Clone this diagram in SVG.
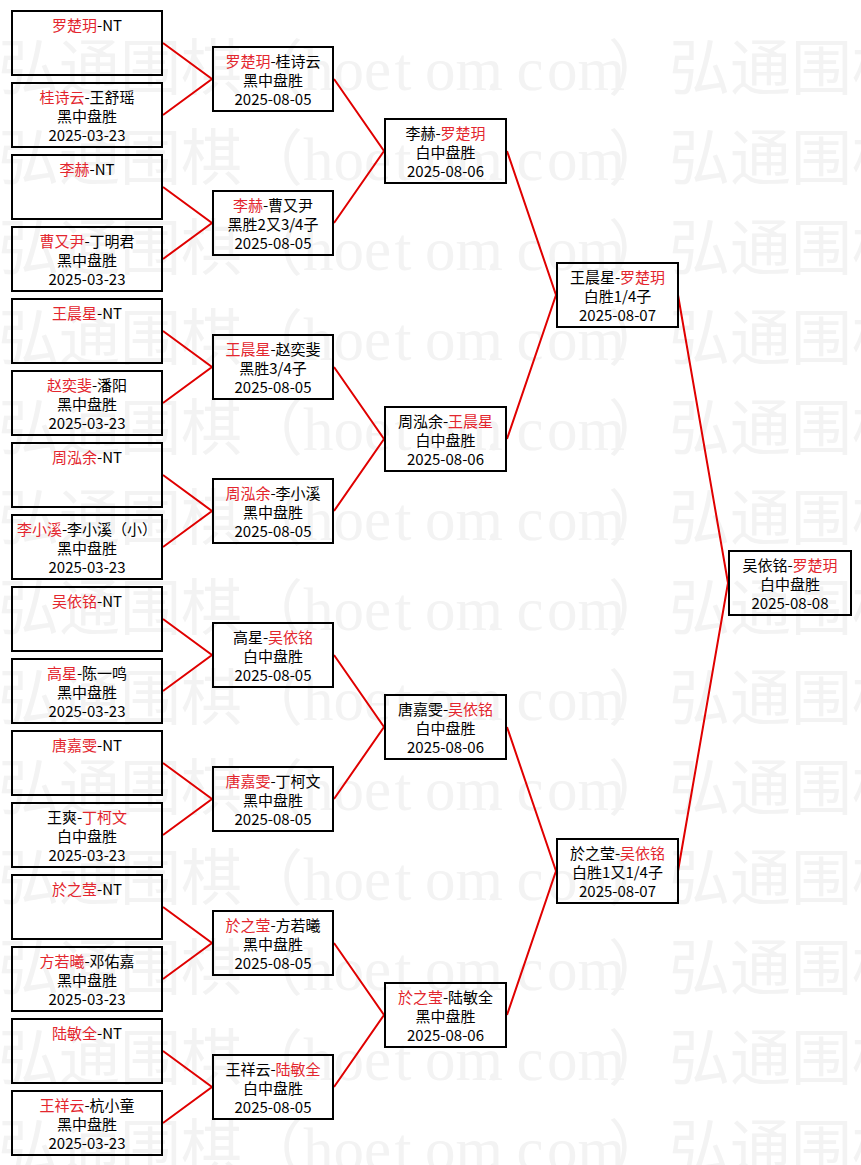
<svg xmlns="http://www.w3.org/2000/svg" xmlns:xlink="http://www.w3.org/1999/xlink" width="861" height="1165" viewBox="0 0 861 1165">
<style>
.bg{fill:#ffffff}
.wm{font-family:"Liberation Serif","Noto Sans CJK SC",serif;font-size:61px;fill:#f3f3f3}
.b{fill:none;stroke:#000;stroke-width:2}
.t{font-family:"Noto Sans CJK SC",sans-serif;font-size:15px;text-anchor:middle;fill:#000}
.r{fill:#e3262e}
.c{fill:none;stroke:#e00000;stroke-width:2}
</style>
<defs>
<text id="wm" class="wm" x="-2 59 120 181 242 303 333.5 364 394.5 425 455.5 486 516.5 547 577.5 608 669 730 791 852" y="0">弘通围棋（hoetom.com）弘通围棋</text>
</defs>
<rect class="bg" x="0" y="0" width="861" height="1165"/>
<g id="watermark">
<use xlink:href="#wm" y="90"/>
<use xlink:href="#wm" y="180"/>
<use xlink:href="#wm" y="270"/>
<use xlink:href="#wm" y="360"/>
<use xlink:href="#wm" y="450"/>
<use xlink:href="#wm" y="540"/>
<use xlink:href="#wm" y="630"/>
<use xlink:href="#wm" y="720"/>
<use xlink:href="#wm" y="810"/>
<use xlink:href="#wm" y="900"/>
<use xlink:href="#wm" y="990"/>
<use xlink:href="#wm" y="1080"/>
<use xlink:href="#wm" y="1170"/>
</g>
<g id="connectors">
<polyline class="c" points="163,43 212,79 163,115"/>
<polyline class="c" points="163,187 212,223 163,259"/>
<polyline class="c" points="163,331 212,367 163,403"/>
<polyline class="c" points="163,475 212,511 163,547"/>
<polyline class="c" points="163,619 212,655 163,691"/>
<polyline class="c" points="163,763 212,799 163,835"/>
<polyline class="c" points="163,907 212,943 163,979"/>
<polyline class="c" points="163,1051 212,1087 163,1123"/>
<polyline class="c" points="334,79 384,151 334,223"/>
<polyline class="c" points="334,367 384,439 334,511"/>
<polyline class="c" points="334,655 384,727 334,799"/>
<polyline class="c" points="334,943 384,1015 334,1087"/>
<polyline class="c" points="507,151 556,295 507,439"/>
<polyline class="c" points="507,727 556,871 507,1015"/>
<polyline class="c" points="678,295 728,583 678,871"/>
</g>
<!-- Round 1 -->
<g id="r1-1"><rect class="b" x="12" y="11" width="150" height="64"/><text class="t" x="87" y="31"><tspan class="r">罗楚玥</tspan>-NT</text></g>
<g id="r1-2"><rect class="b" x="12" y="83" width="150" height="64"/><text class="t" x="87" y="103"><tspan class="r">桂诗云</tspan>-王舒瑶</text><text class="t" x="87" y="122">黑中盘胜</text><text class="t" x="87" y="141">2025-03-23</text></g>
<g id="r1-3"><rect class="b" x="12" y="155" width="150" height="64"/><text class="t" x="87" y="175"><tspan class="r">李赫</tspan>-NT</text></g>
<g id="r1-4"><rect class="b" x="12" y="227" width="150" height="64"/><text class="t" x="87" y="247"><tspan class="r">曹又尹</tspan>-丁明君</text><text class="t" x="87" y="266">黑中盘胜</text><text class="t" x="87" y="285">2025-03-23</text></g>
<g id="r1-5"><rect class="b" x="12" y="299" width="150" height="64"/><text class="t" x="87" y="319"><tspan class="r">王晨星</tspan>-NT</text></g>
<g id="r1-6"><rect class="b" x="12" y="371" width="150" height="64"/><text class="t" x="87" y="391"><tspan class="r">赵奕斐</tspan>-潘阳</text><text class="t" x="87" y="410">黑中盘胜</text><text class="t" x="87" y="429">2025-03-23</text></g>
<g id="r1-7"><rect class="b" x="12" y="443" width="150" height="64"/><text class="t" x="87" y="463"><tspan class="r">周泓余</tspan>-NT</text></g>
<g id="r1-8"><rect class="b" x="12" y="515" width="150" height="64"/><text class="t" x="87" y="535"><tspan class="r">李小溪</tspan>-李小溪（小）</text><text class="t" x="87" y="554">黑中盘胜</text><text class="t" x="87" y="573">2025-03-23</text></g>
<g id="r1-9"><rect class="b" x="12" y="587" width="150" height="64"/><text class="t" x="87" y="607"><tspan class="r">吴依铭</tspan>-NT</text></g>
<g id="r1-10"><rect class="b" x="12" y="659" width="150" height="64"/><text class="t" x="87" y="679"><tspan class="r">高星</tspan>-陈一鸣</text><text class="t" x="87" y="698">黑中盘胜</text><text class="t" x="87" y="717">2025-03-23</text></g>
<g id="r1-11"><rect class="b" x="12" y="731" width="150" height="64"/><text class="t" x="87" y="751"><tspan class="r">唐嘉雯</tspan>-NT</text></g>
<g id="r1-12"><rect class="b" x="12" y="803" width="150" height="64"/><text class="t" x="87" y="823">王爽-<tspan class="r">丁柯文</tspan></text><text class="t" x="87" y="842">白中盘胜</text><text class="t" x="87" y="861">2025-03-23</text></g>
<g id="r1-13"><rect class="b" x="12" y="875" width="150" height="64"/><text class="t" x="87" y="895"><tspan class="r">於之莹</tspan>-NT</text></g>
<g id="r1-14"><rect class="b" x="12" y="947" width="150" height="64"/><text class="t" x="87" y="967"><tspan class="r">方若曦</tspan>-邓佑嘉</text><text class="t" x="87" y="986">黑中盘胜</text><text class="t" x="87" y="1005">2025-03-23</text></g>
<g id="r1-15"><rect class="b" x="12" y="1019" width="150" height="64"/><text class="t" x="87" y="1039"><tspan class="r">陆敏全</tspan>-NT</text></g>
<g id="r1-16"><rect class="b" x="12" y="1091" width="150" height="64"/><text class="t" x="87" y="1111"><tspan class="r">王祥云</tspan>-杭小童</text><text class="t" x="87" y="1130">黑中盘胜</text><text class="t" x="87" y="1149">2025-03-23</text></g>
<!-- Round 2 -->
<g id="r2-1"><rect class="b" x="213" y="47" width="120" height="64"/><text class="t" x="273" y="67"><tspan class="r">罗楚玥</tspan>-桂诗云</text><text class="t" x="273" y="86">黑中盘胜</text><text class="t" x="273" y="105">2025-08-05</text></g>
<g id="r2-2"><rect class="b" x="213" y="191" width="120" height="64"/><text class="t" x="273" y="211"><tspan class="r">李赫</tspan>-曹又尹</text><text class="t" x="273" y="230">黑胜2又3/4子</text><text class="t" x="273" y="249">2025-08-05</text></g>
<g id="r2-3"><rect class="b" x="213" y="335" width="120" height="64"/><text class="t" x="273" y="355"><tspan class="r">王晨星</tspan>-赵奕斐</text><text class="t" x="273" y="374">黑胜3/4子</text><text class="t" x="273" y="393">2025-08-05</text></g>
<g id="r2-4"><rect class="b" x="213" y="479" width="120" height="64"/><text class="t" x="273" y="499"><tspan class="r">周泓余</tspan>-李小溪</text><text class="t" x="273" y="518">黑中盘胜</text><text class="t" x="273" y="537">2025-08-05</text></g>
<g id="r2-5"><rect class="b" x="213" y="623" width="120" height="64"/><text class="t" x="273" y="643">高星-<tspan class="r">吴依铭</tspan></text><text class="t" x="273" y="662">白中盘胜</text><text class="t" x="273" y="681">2025-08-05</text></g>
<g id="r2-6"><rect class="b" x="213" y="767" width="120" height="64"/><text class="t" x="273" y="787"><tspan class="r">唐嘉雯</tspan>-丁柯文</text><text class="t" x="273" y="806">黑中盘胜</text><text class="t" x="273" y="825">2025-08-05</text></g>
<g id="r2-7"><rect class="b" x="213" y="911" width="120" height="64"/><text class="t" x="273" y="931"><tspan class="r">於之莹</tspan>-方若曦</text><text class="t" x="273" y="950">黑中盘胜</text><text class="t" x="273" y="969">2025-08-05</text></g>
<g id="r2-8"><rect class="b" x="213" y="1055" width="120" height="64"/><text class="t" x="273" y="1075">王祥云-<tspan class="r">陆敏全</tspan></text><text class="t" x="273" y="1094">白中盘胜</text><text class="t" x="273" y="1113">2025-08-05</text></g>
<!-- Round 3 -->
<g id="r3-1"><rect class="b" x="385" y="119" width="121" height="64"/><text class="t" x="445.5" y="139">李赫-<tspan class="r">罗楚玥</tspan></text><text class="t" x="445.5" y="158">白中盘胜</text><text class="t" x="445.5" y="177">2025-08-06</text></g>
<g id="r3-2"><rect class="b" x="385" y="407" width="121" height="64"/><text class="t" x="445.5" y="427">周泓余-<tspan class="r">王晨星</tspan></text><text class="t" x="445.5" y="446">白中盘胜</text><text class="t" x="445.5" y="465">2025-08-06</text></g>
<g id="r3-3"><rect class="b" x="385" y="695" width="121" height="64"/><text class="t" x="445.5" y="715">唐嘉雯-<tspan class="r">吴依铭</tspan></text><text class="t" x="445.5" y="734">白中盘胜</text><text class="t" x="445.5" y="753">2025-08-06</text></g>
<g id="r3-4"><rect class="b" x="385" y="983" width="121" height="64"/><text class="t" x="445.5" y="1003"><tspan class="r">於之莹</tspan>-陆敏全</text><text class="t" x="445.5" y="1022">黑中盘胜</text><text class="t" x="445.5" y="1041">2025-08-06</text></g>
<!-- Round 4 -->
<g id="r4-1"><rect class="b" x="557" y="263" width="121" height="64"/><text class="t" x="617.5" y="283">王晨星-<tspan class="r">罗楚玥</tspan></text><text class="t" x="617.5" y="302">白胜1/4子</text><text class="t" x="617.5" y="321">2025-08-07</text></g>
<g id="r4-2"><rect class="b" x="557" y="839" width="121" height="64"/><text class="t" x="617.5" y="859">於之莹-<tspan class="r">吴依铭</tspan></text><text class="t" x="617.5" y="878">白胜1又1/4子</text><text class="t" x="617.5" y="897">2025-08-07</text></g>
<!-- Final -->
<g id="r5-1"><rect class="b" x="729" y="551" width="122" height="64"/><text class="t" x="790" y="571">吴依铭-<tspan class="r">罗楚玥</tspan></text><text class="t" x="790" y="590">白中盘胜</text><text class="t" x="790" y="609">2025-08-08</text></g>
</svg>
